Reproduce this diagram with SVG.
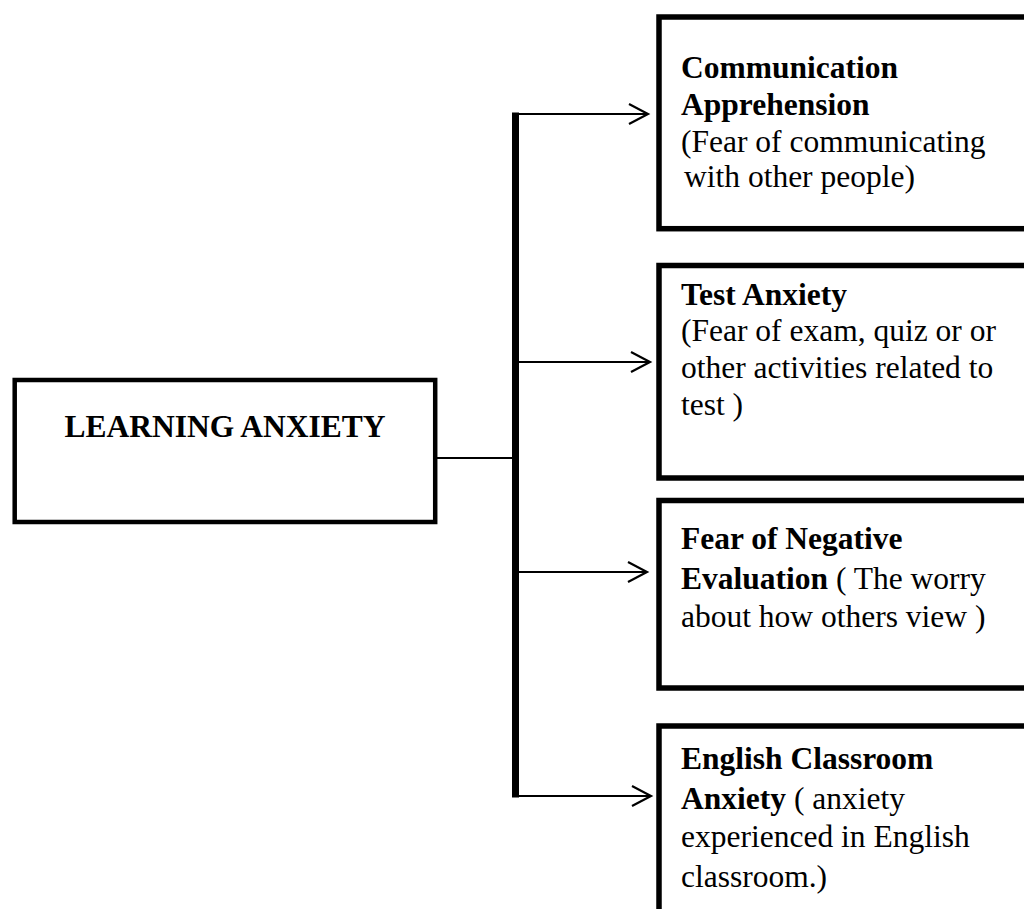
<svg xmlns="http://www.w3.org/2000/svg" width="1024" height="909" viewBox="0 0 1024 909">
<style>
  .box { fill: #ffffff; stroke: #000000; stroke-width: 5.5; }
  .t { font-family: "Liberation Serif", "Times New Roman", serif; font-size: 31.5px; fill: #000000; }
  .b { font-weight: bold; }
  .conn { stroke: #000000; stroke-width: 2; fill: none; }
  .trunk { stroke: #000000; stroke-width: 7; fill: none; }
</style>
<defs>
  <marker id="chev" markerUnits="userSpaceOnUse" markerWidth="30" markerHeight="30" refX="0" refY="0" orient="auto" overflow="visible">
    <path d="M -19 -10 L 0 0 L -19 10" fill="none" stroke="#000000" stroke-width="2.2"/>
  </marker>
</defs>
<rect width="1024" height="909" fill="#ffffff"/>

<g id="node-learning-anxiety">
  <rect class="box" x="14.7" y="380" width="420.5" height="142" style="stroke-width:4.5"/>
  <text class="t b" x="225" y="437" text-anchor="middle">LEARNING ANXIETY</text>
</g>

<g id="node-communication">
  <rect class="box" x="659" y="17" width="380" height="211.7"/>
  <text class="t b" x="681" y="78">Communication</text>
  <text class="t b" x="681" y="115">Apprehension</text>
  <text class="t" x="681" y="151.5">(Fear of communicating</text>
  <text class="t" x="684" y="187"> with other people)</text>
</g>

<g id="node-test">
  <rect class="box" x="659" y="265.5" width="380" height="212.5"/>
  <text class="t b" x="681" y="305">Test Anxiety</text>
  <text class="t" x="681" y="340.5">(Fear of exam, quiz or or</text>
  <text class="t" x="681" y="378">other activities related to</text>
  <text class="t" x="681" y="415">test )</text>
</g>

<g id="node-negative">
  <rect class="box" x="659" y="500.5" width="380" height="187.5"/>
  <text class="t b" x="681" y="548.5">Fear of Negative</text>
  <text class="t" x="681" y="588.5"><tspan class="b">Evaluation</tspan> ( The worry</text>
  <text class="t" x="681" y="627">about how others view )</text>
</g>

<g id="node-classroom">
  <rect class="box" x="659" y="726" width="380" height="200"/>
  <text class="t b" x="681" y="768.5">English Classroom</text>
  <text class="t" x="681" y="808.5"><tspan class="b">Anxiety</tspan> ( anxiety</text>
  <text class="t" x="681" y="847">experienced in English</text>
  <text class="t" x="681" y="887">classroom.)</text>
</g>

<g id="connectors">
  <line class="conn" x1="437" y1="458" x2="513" y2="458"/>
  <line class="trunk" x1="515.5" y1="112.5" x2="515.5" y2="797.5"/>
  <line class="conn" x1="515" y1="114" x2="648" y2="114" marker-end="url(#chev)"/>
  <line class="conn" x1="515" y1="362" x2="650" y2="362" marker-end="url(#chev)"/>
  <line class="conn" x1="515" y1="572" x2="647" y2="572" marker-end="url(#chev)"/>
  <line class="conn" x1="515" y1="796" x2="651" y2="796" marker-end="url(#chev)"/>
</g>
</svg>
